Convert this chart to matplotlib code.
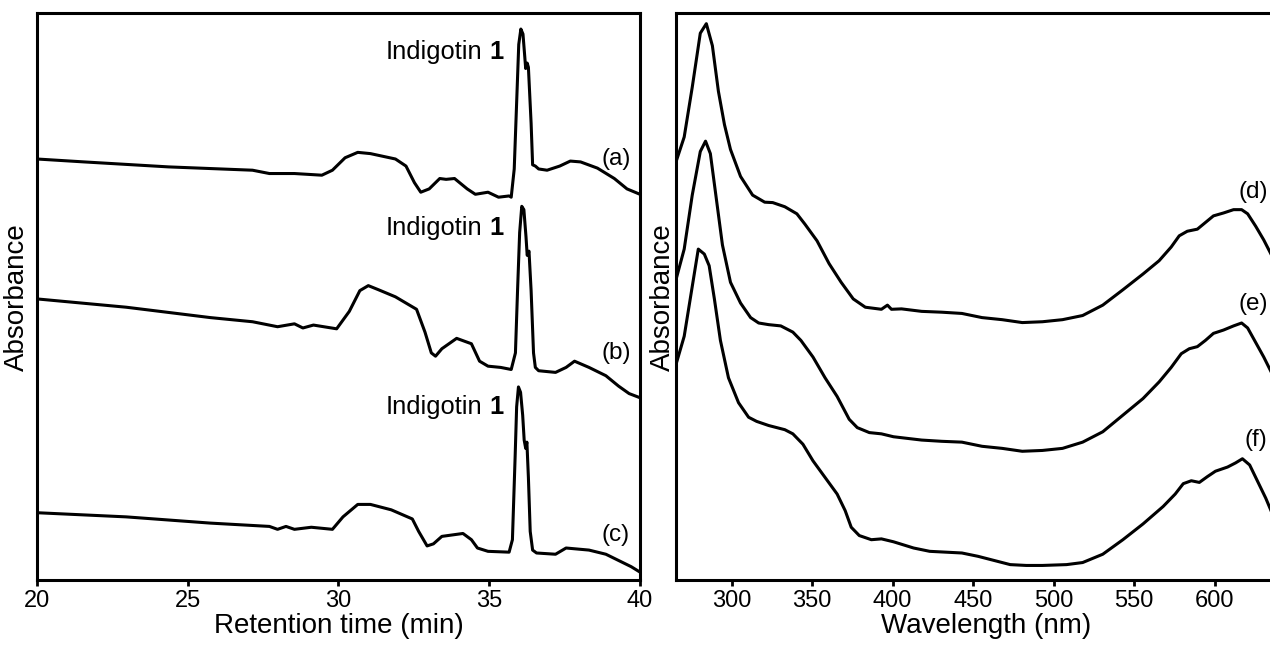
import numpy as np
import matplotlib
matplotlib.use('Agg')
from matplotlib import pyplot as plt

plt.rcParams['font.family'] = ['Liberation Sans', 'DejaVu Sans']

# HPLC chromatograms (retention time in min, absorbance in arbitrary units)
t_a = [20.00, 21.56, 24.36, 27.15, 27.71, 28.54, 29.45, 29.80, 30.22, 30.64, 31.06,
       31.89, 32.24, 32.52, 32.73, 33.01, 33.36, 33.57, 33.85, 34.27, 34.54, 34.96,
       35.31, 35.66, 35.73, 35.83, 35.91, 35.98, 36.05, 36.12, 36.18, 36.21, 36.26,
       36.30, 36.39, 36.44, 36.53, 36.64, 36.92, 37.34, 37.69, 38.03, 38.59, 39.15,
       39.57, 40.00]
abs_a = [1014, 1007, 995, 987, 979, 979, 975, 987, 1017, 1030, 1027,
         1014, 997, 957, 934, 942, 967, 965, 967, 942, 929, 934,
         922, 925, 922, 990, 1150, 1290, 1327, 1315, 1260, 1232, 1245,
         1235, 1100, 1000, 997, 990, 987, 997, 1009, 1007, 992, 967,
         942, 929]

t_b = [20.00, 22.96, 25.75, 27.15, 27.98, 28.54, 28.82, 29.17, 29.94, 30.36, 30.71,
       30.99, 31.33, 31.89, 32.59, 32.87, 33.08, 33.22, 33.43, 33.92, 34.41, 34.68,
       34.96, 35.38, 35.73, 35.87, 35.94, 36.01, 36.08, 36.15, 36.22, 36.26, 36.32,
       36.39, 36.47, 36.53, 36.64, 37.20, 37.55, 37.83, 38.31, 38.87, 39.29, 39.64,
       40.00]
abs_b = [677, 657, 632, 622, 610, 617, 607, 614, 605, 647, 697,
         709, 699, 682, 652, 597, 547, 539, 557, 582, 569, 527,
         515, 512, 507, 547, 697, 837, 900, 892, 827, 782, 792,
         697, 547, 512, 504, 500, 512, 527, 512, 492, 467, 449,
         439]

t_c = [20.00, 22.96, 25.75, 27.71, 27.98, 28.26, 28.54, 29.10, 29.80, 30.15, 30.64,
       31.06, 31.75, 32.45, 32.66, 32.94, 33.15, 33.43, 34.13, 34.41, 34.61, 34.96,
       35.66, 35.77, 35.86, 35.91, 35.97, 36.04, 36.11, 36.16, 36.21, 36.25, 36.30,
       36.36, 36.44, 36.57, 37.20, 37.55, 38.31, 38.87, 39.29, 39.71, 40.00]
abs_c = [162, 152, 137, 129, 122, 129, 122, 127, 122, 152, 182,
         182, 169, 147, 117, 82, 87, 105, 112, 97, 77, 69,
         67, 97, 297, 417, 465, 452, 397, 337, 317, 332, 247,
         117, 72, 65, 62, 77, 72, 62, 47, 32, 19]

# UV-Vis spectra (wavelength in nm, absorbance in arbitrary units)
wl_d = [266, 270.5, 275.5, 280.5, 284.25, 288, 291.75, 295.5, 299.25, 305.5, 313,
        320.5, 325.5, 333, 340.5, 345.5, 353, 360.5, 368, 375.5, 383, 393, 396.75,
        399.25, 405.5, 418, 430.5, 443, 455.5, 468, 480.5, 493, 505.5, 518, 530.5,
        543, 555.5, 565.5, 573, 578, 583, 589.25, 593, 599.25, 605.5, 611.75,
        616.75, 620.5, 625.5, 630.5, 635]
abs_d = [1014, 1067, 1187, 1317, 1340, 1287, 1177, 1097, 1037, 972, 927,
         910, 909, 899, 882, 857, 817, 762, 717, 677, 657, 652, 662,
         652, 653, 647, 645, 642, 632, 627, 620, 622, 627, 637, 662,
         699, 737, 769, 802, 829, 840, 845, 857, 877, 884, 892,
         892, 882, 852, 819, 785]

wl_e = [266, 270.5, 275.5, 280.5, 283.75, 286.75, 290.5, 294.25, 299.25, 305.5, 311.75,
        316.75, 323, 330.5, 338, 343, 350.5, 358, 365.5, 373, 378, 385.5, 393,
        400.5, 418, 430.5, 443, 455.5, 468, 480.5, 493, 505.5, 518, 530.5, 543,
        555.5, 565.5, 573, 579.25, 584.25, 589.25, 594.25, 599.25, 605.5, 611.75,
        616.75, 620.5, 625.5, 630.5, 635]
abs_e = [732, 797, 927, 1032, 1057, 1027, 917, 807, 717, 667, 632,
         619, 615, 612, 597, 577, 537, 487, 442, 387, 367, 355, 352,
         345, 337, 334, 332, 322, 317, 310, 312, 317, 332, 357, 397,
         437, 477, 512, 545, 557, 562, 577, 594, 602, 612,
         619, 607, 572, 537, 502]

wl_f = [266, 270.5, 275.5, 279.25, 283, 286, 289.25, 293, 298, 304.25, 310.5,
        315.5, 323, 333, 338, 344.25, 350.5, 358, 365.5, 370.5, 374.25, 379.25,
        386.75, 393, 400.5, 413, 423, 433, 443, 453, 463, 473, 483, 493, 508,
        518, 530.5, 543, 555.5, 568, 575.5, 580.5, 585.5, 590.5, 595.5, 600.5,
        608, 613, 617.25, 621.75, 626.75, 631.75, 635]
abs_f = [527, 587, 707, 797, 785, 757, 677, 577, 487, 427, 392,
         382, 372, 362, 352, 327, 287, 247, 207, 167, 127, 107,
         97, 99, 92, 77, 69, 67, 65, 57, 47, 37, 35, 35, 37,
         42, 62, 97, 135, 177, 207, 232, 239, 235, 249, 262,
         272, 282, 292, 277, 237, 197, 167]

lw = 2.2
fig = plt.figure(figsize=(12.7, 6.51), dpi=100)
ax1 = fig.add_axes([0.0291, 0.1091, 0.4748, 0.8705])
ax2 = fig.add_axes([0.5324, 0.1091, 0.4874, 0.8705])

for t, a in [(t_a, abs_a), (t_b, abs_b), (t_c, abs_c)]:
    ax1.plot(t, a, color='black', lw=lw, solid_joinstyle='round')
for w, a in [(wl_d, abs_d), (wl_e, abs_e), (wl_f, abs_f)]:
    ax2.plot(w, a, color='black', lw=lw, solid_joinstyle='round')

ax1.set_xlim(20, 40)
ax1.set_xticks(np.arange(20, 41, 5))
ax2.set_xlim(265.5, 650)
ax2.set_xticks(np.arange(300, 601, 50))

for ax in (ax1, ax2):
    ax.set_ylim(0, 1365)
    ax.set_yticks([])
    for s in ax.spines.values():
        s.set_linewidth(2.2)
    ax.tick_params(axis='x', direction='out', length=4, width=2, labelsize=17, pad=3)

ax1.set_xlabel('Retention time (min)', fontsize=20, labelpad=1)
ax2.set_xlabel('Wavelength (nm)', fontsize=20, labelpad=1)
ax1.set_ylabel('Absorbance', fontsize=20, labelpad=5)
ax2.set_ylabel('Absorbance', fontsize=20, labelpad=0)

# peak labels
for y in [1272, 847, 417]:
    ax1.text(35.49, y, '1', fontsize=18.4, fontweight='bold', ha='right', va='center')
    ax1.annotate('Indigotin', xy=(35.49, y), xytext=(-15.3, 0), textcoords='offset points',
                 fontsize=18.4, ha='right', va='center')

for lab, y in [('(a)', 1014), ('(b)', 547), ('(c)', 109)]:
    ax1.text(39.2, y, lab, fontsize=17.5, ha='center', va='center')
for lab, x, y in [('(d)', 624, 935), ('(e)', 624, 665), ('(f)', 625.5, 337)]:
    ax2.text(x, y, lab, fontsize=17.5, ha='center', va='center')

plt.savefig('out.png', format='png', dpi=100)
